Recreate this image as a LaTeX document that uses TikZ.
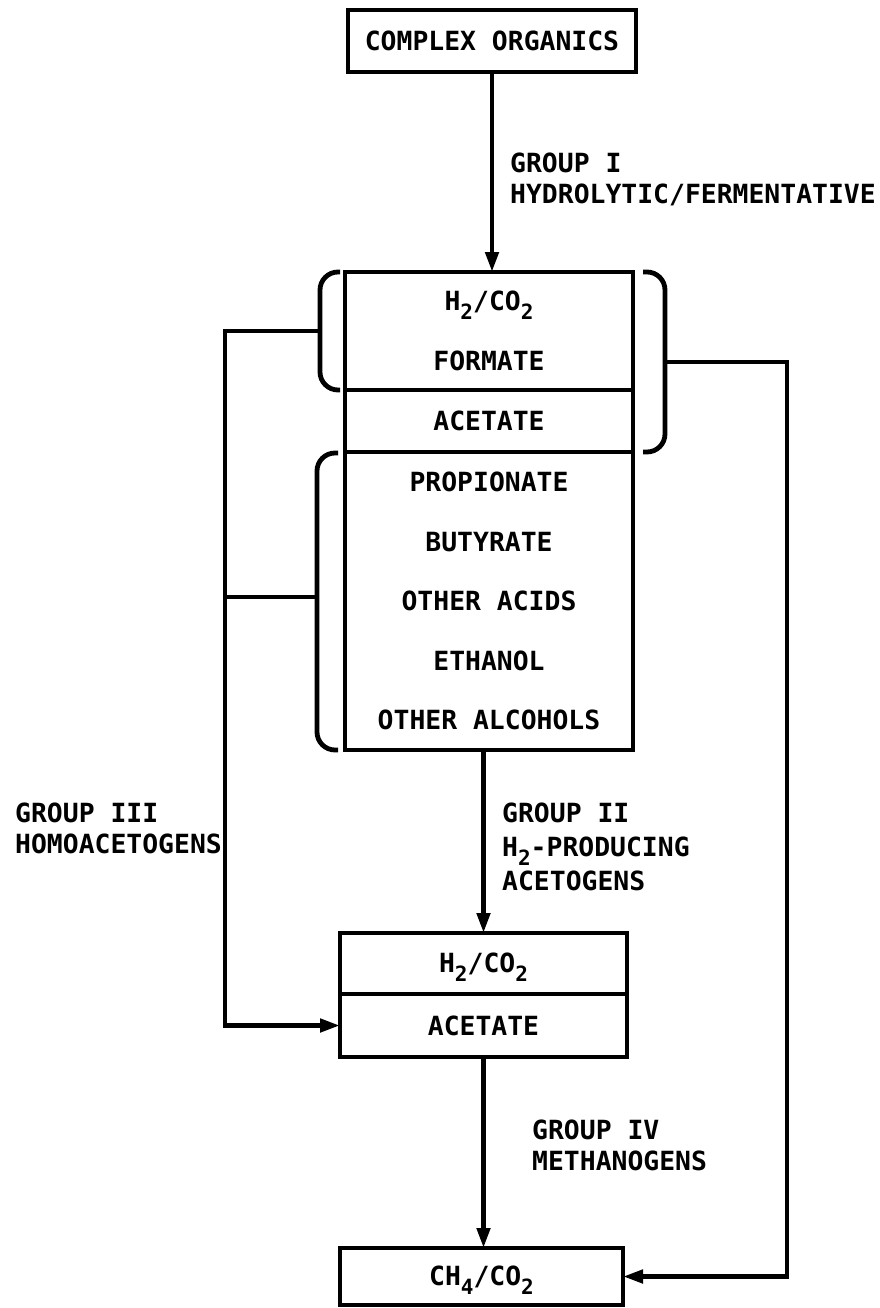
\documentclass[tikz,border=0pt]{standalone}
\usepackage{fontspec}
\newfontfamily\lettering{DejaVu Sans Mono}
\usetikzlibrary{positioning, arrows.meta}
\newcommand{\lowidx}[1]{\raisebox{-9pt}[0pt][0pt]{\fontsize{21}{21}\selectfont #1}}

\begin{document}
\begin{tikzpicture}[
    x=1pt, y=-1pt,
    box/.style={draw, line width=4.8pt, inner sep=0pt, outer sep=0pt, minimum width=288pt, align=center, font=\lettering\bfseries\fontsize{26.4}{59.5}\selectfont},
    lbl/.style={inner sep=0pt, anchor=north west, align=left, font=\lettering\bfseries\fontsize{26.4}{31}\selectfont},
    arrow/.style={-{Triangle[length=20pt, width=13pt]}, line width=4.6pt},
    wire/.style={line width=4.6pt},
    brace/.style={line width=4.8pt, rounded corners=18pt}
]
    \useasboundingbox (0,0) rectangle (879,1308);

    \node[box, minimum height=62pt] (organics) at (492,41) {COMPLEX ORGANICS};

    \node[box, minimum height=118pt] (gas) at (489,331) {H\lowidx{2}/CO\lowidx{2}\\FORMATE};
    \node[box, minimum height=62pt, below=0pt of gas] (acetate) {ACETATE};
    \node[box, minimum height=298pt, below=0pt of acetate] (acids) {PROPIONATE\\BUTYRATE\\OTHER ACIDS\\ETHANOL\\OTHER ALCOHOLS};

    \node[box, minimum width=287pt, minimum height=61pt] (pool) at (483.5,963.5) {H\lowidx{2}/CO\lowidx{2}};
    \node[box, minimum width=287pt, minimum height=63pt, below=0pt of pool] (poolacet) {ACETATE};

    \node[box, minimum width=283pt, minimum height=57pt] (methane) at (481.5,1276.5) {CH\lowidx{4}/CO\lowidx{2}};

    % brackets round the intermediates
    \draw[brace] (340,272) -- (320,272) -- (320,390) -- (340,390);
    \draw[brace] (643,272) -- (665,272) -- (665,452) -- (643,452);
    \draw[brace] (338,453) -- (317,453) -- (317,750) -- (338,750);
    \coordinate (brgas) at (320,331);
    \coordinate (bracet) at (665,362);
    \coordinate (bracids) at (317,597);
    \coordinate (homobus) at (225,331);
    \coordinate (methbus) at (787,362);

    \draw[arrow] (organics.south) -- (organics.south |- gas.north);
    \draw[arrow] (pool.north |- acids.south) -- (pool.north);
    \draw[arrow] (poolacet.south) -- (poolacet.south |- methane.north);
    \draw[arrow] (brgas) -- (homobus) |- (poolacet.west);
    \draw[wire] (bracids) -- (bracids -| homobus);
    \draw[arrow] (bracet) -- (methbus) |- (methane.east);

    \node[lbl] (grpone) at (510,153) {GROUP I\\HYDROLYTIC/FERMENTATIVE};
    \node[lbl, font=\lettering\bfseries\fontsize{26.4}{34}\selectfont] (grptwo) at (502,803) {GROUP II\\H\lowidx{2}-PRODUCING\\ACETOGENS};
    \node[lbl] (grpthree) at (15,803) {GROUP III\\HOMOACETOGENS};
    \node[lbl] (grpfour) at (532,1120) {GROUP IV\\METHANOGENS};
\end{tikzpicture}
\end{document}
